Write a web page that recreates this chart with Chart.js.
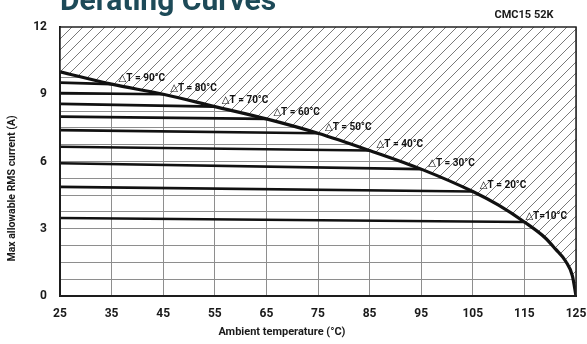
<!DOCTYPE html>
<html>
<head>
<meta charset="utf-8">
<script src="https://cdn.jsdelivr.net/npm/chart.js@4"></script>
<style>
  html, body { margin: 0; padding: 0; background: #fff; }
  #wrap { width: 587px; height: 344px; position: relative; }
</style>
</head>
<body>
<div id="wrap"><canvas id="derating"></canvas></div>
<script>
// one horizontal line per temperature rise
const deltaT = [10, 20, 30, 40, 50, 60, 70, 80, 90];
const startTemp = 25;
const startCurrent = [3.48, 4.87, 5.92, 6.66, 7.40, 8.00, 8.57, 9.05, 9.52];
const endTemp = [115, 105, 95, 85, 75, 65, 55, 45, 35];
const endCurrent = [3.30, 4.66, 5.66, 6.49, 7.26, 7.90, 8.45, 9.00, 9.45];

// limit curve (upper bound, hatched above)
const limitTemp = [25, 35, 45, 55, 65, 75, 85, 95, 105, 110, 115, 119, 121, 123, 124.3, 125];
const limitCurrent = [10.0, 9.45, 9.00, 8.45, 7.90, 7.26, 6.49, 5.66, 4.66, 4.05, 3.30, 2.60, 2.10, 1.55, 0.90, 0];

const yLabels = [0, 3, 6, 9, 12];

const FONT = 'Roboto, "DejaVu Sans", sans-serif';

const canvas = document.getElementById('derating');
const ctx = canvas.getContext('2d');

// diagonal hatch
const tile = document.createElement('canvas');
tile.width = 11; tile.height = 11;
const t = tile.getContext('2d');
t.fillStyle = '#fff';
t.fillRect(0, 0, 11, 11);
t.strokeStyle = '#6a6a6a';
t.lineWidth = 0.9;
t.beginPath();
t.moveTo(0, 11); t.lineTo(11, 0);
t.moveTo(-1, 1); t.lineTo(1, -1);
t.moveTo(10, 12); t.lineTo(12, 10);
t.stroke();
const hatch = ctx.createPattern(tile, 'repeat');

const datasets = [{
    label: 'limit',
    data: limitTemp.map((v, i) => ({x: v, y: limitCurrent[i]})),
    borderColor: '#111',
    borderWidth: 3.2,
    pointRadius: 0,
    cubicInterpolationMode: 'monotone',
    fill: 'end',
    backgroundColor: hatch
}];
deltaT.forEach((d, i) => {
    datasets.push({
        label: 'dT ' + d,
        data: [{x: startTemp, y: startCurrent[i]}, {x: endTemp[i], y: endCurrent[i]}],
        borderColor: '#111',
        borderWidth: 2.6,
        pointRadius: 0,
        fill: false
    });
});

const annotate = {
    id: 'annotate',
    afterDatasetsDraw(chart) {
        const {ctx, chartArea: a, scales: {x, y}} = chart;
        ctx.save();
        ctx.strokeStyle = '#222';
        ctx.lineWidth = 1.5;
        ctx.strokeRect(a.left, a.top, a.right - a.left, a.bottom - a.top);

        ctx.font = 'bold 10px ' + FONT;
        ctx.fillStyle = '#111';
        ctx.textBaseline = 'middle';
        ctx.textAlign = 'left';
        deltaT.forEach((d, i) => {
            const px = x.getPixelForValue(endTemp[i]);
            const py = y.getPixelForValue(endCurrent[i]);
            const txt = d === 10 ? '\u25B3T=' + d + '\u00B0C' : '\u25B3T = ' + d + '\u00B0C';
            ctx.fillText(txt, px + (d === 10 ? 1 : 7), py - 6);
        });
        ctx.restore();
    },
    afterDraw(chart) {
        const {ctx, chartArea: a} = chart;
        ctx.save();
        ctx.fillStyle = '#1d4a58';
        ctx.font = 'bold 30px ' + FONT;
        ctx.textBaseline = 'alphabetic';
        ctx.textAlign = 'left';
        ctx.fillText('Derating Curves', a.left, 10);

        ctx.fillStyle = '#1a1a1a';
        ctx.font = 'bold 11px ' + FONT;
        ctx.textAlign = 'center';
        ctx.textBaseline = 'middle';
        ctx.fillText('CMC15 52K', 524, 15);

        ctx.font = 'bold 11px ' + FONT;
        ctx.fillText('Ambient temperature (\u00B0C)', a.left + 0.43 * (a.right - a.left), 332);

        ctx.font = 'bold 10.5px ' + FONT;
        ctx.translate(12, a.top + 0.6 * (a.bottom - a.top));
        ctx.rotate(-Math.PI / 2);
        ctx.fillText('Max allowable RMS current (A)', 0, 0);
        ctx.restore();
    }
};

new Chart(ctx, {
    type: 'line',
    data: { datasets: datasets },
    options: {
        responsive: true,
        maintainAspectRatio: false,
        animation: false,
        layout: { padding: { top: 27, right: 11, left: 0, bottom: 0 } },
        plugins: {
            legend: { display: false },
            tooltip: { enabled: false }
        },
        scales: {
            x: {
                type: 'linear',
                min: 25,
                max: 125,
                afterFit: s => { s.height = 48; s.paddingLeft = 0; s.paddingRight = 0; },
                ticks: {
                    stepSize: 10,
                    padding: 11,
                    color: '#1a1a1a',
                    font: { family: FONT, size: 12, weight: 'bold' }
                },
                grid: { color: '#8e8e8e', lineWidth: 1, drawTicks: false },
                border: { color: '#111', width: 2 }
            },
            y: {
                min: 0,
                max: 12,
                afterFit: s => { s.width = 60; s.paddingTop = 0; s.paddingBottom = 0; },
                ticks: {
                    stepSize: 0.75,
                    autoSkip: false,
                    padding: 13,
                    color: '#1a1a1a',
                    font: { family: FONT, size: 12, weight: 'bold' },
                    callback: v => yLabels.includes(v) ? v : ''
                },
                grid: { color: '#8e8e8e', lineWidth: 1, drawTicks: false },
                border: { color: '#111', width: 2 }
            }
        }
    },
    plugins: [annotate]
});
</script>
</body>
</html>
